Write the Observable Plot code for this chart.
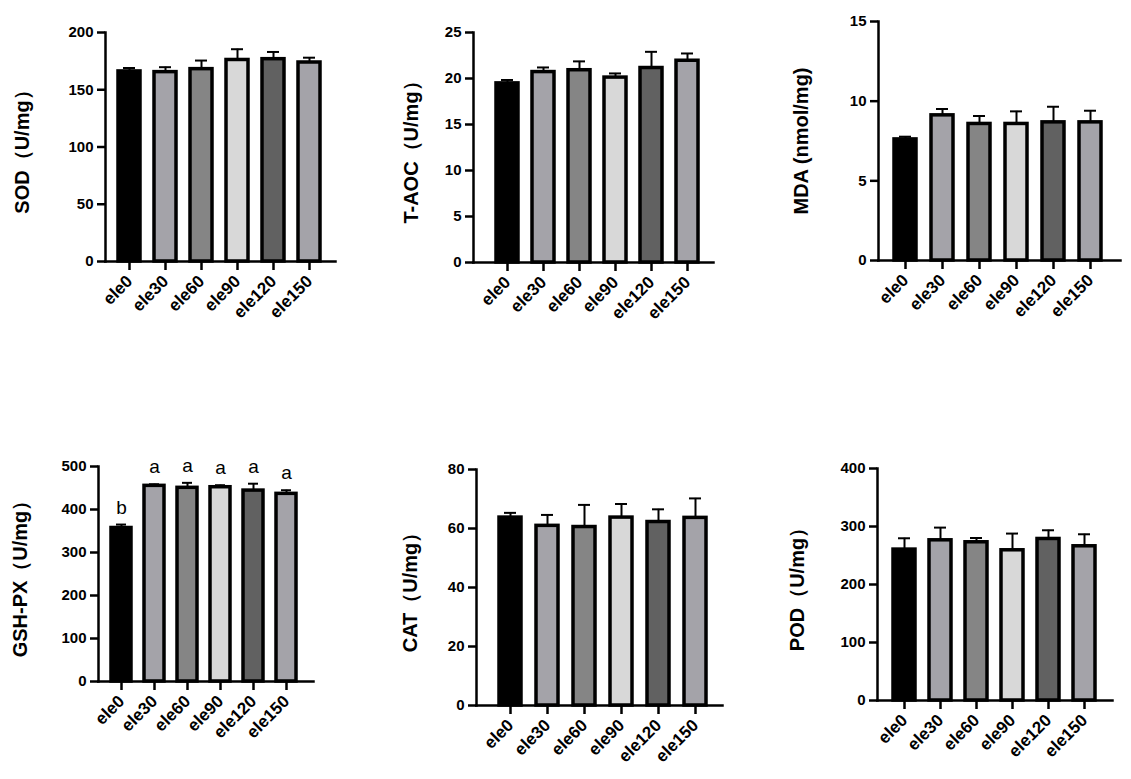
<!DOCTYPE html>
<html><head><meta charset="utf-8">
<script src="https://cdn.jsdelivr.net/npm/d3@7"></script>
<script src="https://cdn.jsdelivr.net/npm/@observablehq/plot@0.6"></script>
<style>
body{margin:0;background:#fff;}
#wrap{position:relative;width:1131px;height:779px;overflow:hidden;background:#fff;}
.panel{position:absolute;}
</style></head><body><div id="wrap"></div>
<script>
// ---- data ----
const groups = ["ele0","ele30","ele60","ele90","ele120","ele150"];
const groupColors = ["#000000","#a4a3a9","#858585","#d8d8d8","#616161","#a4a3a9"];

const sodMean = [166, 165.4, 168, 176, 176.7, 173.8];
const sodSD   = [3, 4.3, 7.5, 9.4, 6.3, 4.2];
const sodTicks = [0, 50, 100, 150, 200];

const taocMean = [19.47, 20.7, 20.9, 20.1, 21.14, 21.93];
const taocSD   = [0.37, 0.5, 0.96, 0.45, 1.76, 0.79];
const taocTicks = [0, 5, 10, 15, 20, 25];

const mdaMean = [7.6, 9.11, 8.57, 8.57, 8.67, 8.67];
const mdaSD   = [0.17, 0.4, 0.5, 0.79, 0.98, 0.73];
const mdaTicks = [0, 5, 10, 15];

const gshMean = [357, 455, 450.4, 451.8, 444, 436.4];
const gshSD   = [8, 3.7, 11.6, 4.7, 16, 8.4];
const gshLetters = ["b","a","a","a","a","a"];
const gshTicks = [0, 100, 200, 300, 400, 500];

const catMean = [63.7, 60.9, 60.5, 63.7, 62.2, 63.6];
const catSD   = [1.6, 3.7, 7.5, 4.6, 4.3, 6.6];
const catTicks = [0, 20, 40, 60, 80];

const podMean = [260.2, 276.2, 272.8, 259, 278.5, 265.9];
const podSD   = [19.5, 21.9, 7.4, 28.8, 15, 20.7];
const podTicks = [0, 100, 200, 300, 400];

const panels = [
  {label:"SOD（U/mg）",   mean:sodMean,  sd:sodSD,  ticks:sodTicks},
  {label:"T-AOC（U/mg）", mean:taocMean, sd:taocSD, ticks:taocTicks},
  {label:"MDA (nmol/mg)", mean:mdaMean,  sd:mdaSD,  ticks:mdaTicks},
  {label:"GSH-PX（U/mg）",mean:gshMean,  sd:gshSD,  ticks:gshTicks, letters:gshLetters},
  {label:"CAT（U/mg）",   mean:catMean,  sd:catSD,  ticks:catTicks},
  {label:"POD（U/mg）",   mean:podMean,  sd:podSD,  ticks:podTicks}
];

// ---- layout (positions / sizes) ----
const layout = [
  {left:0,   top:0,   width:380, height:390, mL:105, mR:45, mT:32, mB:129, po:0.394, align:0.475, labelDx:-83},
  {left:380, top:0,   width:380, height:390, mL:93,  mR:47, mT:32, mB:128, po:0.524, align:0.595, labelDx:-62},
  {left:760, top:0,   width:371, height:390, mL:118, mR:11, mT:21, mB:130, po:0.397, align:0.447, labelDx:-77},
  {left:0,   top:390, width:380, height:389, mL:98,  mR:67, mT:76, mB:98,  po:0.413, align:0.444, labelDx:-78},
  {left:380, top:390, width:380, height:389, mL:96,  mR:38, mT:79, mB:74,  po:0.515, align:0.589, labelDx:-66},
  {left:760, top:390, width:371, height:389, mL:117, mR:19, mT:78, mB:79,  po:0.419, align:0.49,  labelDx:-80}
];

const wrap = document.getElementById("wrap");
panels.forEach((p, i) => {
  const L = layout[i];
  const rows = groups.map((g, j) => ({
    group: g, mean: p.mean[j], top: p.mean[j] + p.sd[j], letter: p.letters ? p.letters[j] : null
  }));
  const ymax = p.ticks[p.ticks.length - 1];
  const marks = [
    Plot.barY(rows, {x:"group", y:"mean", fill:"group", stroke:"#000", strokeWidth:3.5}),
    Plot.ruleX(rows, {x:"group", y1:"mean", y2:"top", stroke:"#000", strokeWidth:2}),
    Plot.tickY(rows, {x:"group", y:"top", stroke:"#000", strokeWidth:2, insetLeft:5, insetRight:5}),
    Plot.frame({anchor:"left", stroke:"#000", strokeWidth:2.5}),
    Plot.frame({anchor:"bottom", stroke:"#000", strokeWidth:2.5}),
    Plot.axisY({ticks:p.ticks, tickSize:8, tickPadding:4, fontSize:15, fontWeight:"bold", strokeWidth:2.5, label:null, tickFormat:d=>String(d)}),
    Plot.axisX({tickSize:9, tickPadding:8, tickRotate:-45, fontSize:17, fontWeight:"bold", strokeWidth:2.5, label:null}),
    Plot.text([p.label], {text:d=>d, frameAnchor:"left", dx:L.labelDx, rotate:-90, fontSize:20, fontWeight:"bold", textAnchor:"middle", lineAnchor:"middle", fill:"#000"})
  ];
  if (p.letters) {
    marks.push(Plot.text(rows, {x:"group", y:"top", text:"letter", dy:-17, fontSize:19, lineAnchor:"middle", fill:"#000"}));
  }
  const chart = Plot.plot({
    width: L.width, height: L.height,
    marginLeft: L.mL, marginRight: L.mR, marginTop: L.mT, marginBottom: L.mB,
    x: {domain: groups, paddingInner: 0.4, paddingOuter: L.po, align: L.align, axis: null},
    y: {domain: [0, ymax], axis: null},
    color: {domain: groups, range: groupColors},
    style: {fontFamily: "'Liberation Sans', Arial, sans-serif", color: "#000", background: "transparent", overflow: "visible"},
    marks
  });
  chart.classList.add("panel");
  chart.style.left = L.left + "px";
  chart.style.top = L.top + "px";
  wrap.appendChild(chart);
});
</script>
</body></html>
